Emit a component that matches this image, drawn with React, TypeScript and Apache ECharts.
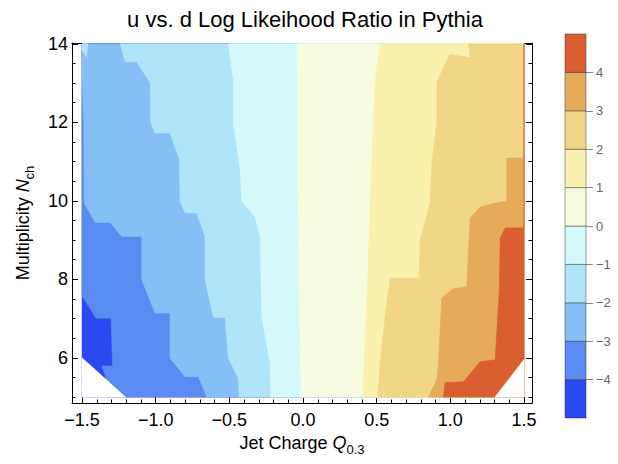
import React, { useEffect, useRef } from "react";
import * as echarts from "echarts";

// ---------- Data ----------
const TITLE = "u vs. d Log Likeihood Ratio in Pythia";

// contour levels and fill colours (bins: <-4, -4..-3, ..., 3..4, >4)
const levelValues = [-5, -4, -3, -2, -1, 0, 1, 2, 3, 4, 5];
const levelColors = [
  "#2B49F0",
  "#5A8BF0",
  "#86BEF6",
  "#AFE4F9",
  "#D5F9FB",
  "#F7FCE0",
  "#FAF1AE",
  "#F2D687",
  "#E6AA5B",
  "#D95E31",
];
const colorbarTicks = [-4, -3, -2, -1, 0, 1, 2, 3, 4];

// axis ticks
const xMajorTicks = [-1.5, -1.0, -0.5, 0.0, 0.5, 1.0, 1.5];
const yMajorTicks = [6, 8, 10, 12, 14];

// data domain (Jet charge x, multiplicity y)
const domainX = [-1.5, 1.5];
const domainY = [5, 14];

// contour lines (x, y); region right of each line has value above the level
const lineM4 = [[-1.5, 14], [-1.5, 7.58], [-1.405, 7.01], [-1.303, 7.01], [-1.292, 5.79], [-1.366, 5.79], [-1.34, 5.53], [-1.34, 5]];
const lineM3 = [[-1.5, 14], [-1.5, 13.2], [-1.488, 12.0], [-1.485, 9.94], [-1.41, 9.45], [-1.31, 9.45], [-1.23, 9.09], [-1.095, 9.09], [-1.095, 7.99], [-1.004, 7.14], [-0.903, 7.14], [-0.903, 5.99], [-0.8, 5.52], [-0.71, 5.52], [-0.654, 5]];
const lineM2 = [[-1.24, 14], [-1.208, 13.54], [-1.129, 13.54], [-1.038, 13.01], [-1.034, 11.99], [-1.004, 11.73], [-0.903, 11.73], [-0.839, 11.05], [-0.835, 9.99], [-0.8, 9.69], [-0.722, 9.69], [-0.665, 9.09], [-0.665, 7.99], [-0.608, 7.03], [-0.529, 7.03], [-0.507, 5.99], [-0.439, 5.48], [-0.434, 5]];
const patchM2 = [[-1.5, 14], [-1.46, 14], [-1.47, 13.66], [-1.5, 13.85]];
const lineM1 = [[-0.507, 14], [-0.473, 13.09], [-0.473, 11.99], [-0.427, 10.8], [-0.416, 9.99], [-0.326, 9.6], [-0.292, 9.09], [-0.28, 7.05], [-0.224, 5.86], [-0.219, 5]];
const line0 = [[-0.04, 14], [-0.035, 10], [-0.025, 7.5], [-0.012, 5]];
const line1 = [[0.523, 14], [0.489, 13.01], [0.466, 10.97], [0.437, 7.9], [0.405, 5]];
const line2 = [[1.123, 14], [1.134, 13.65], [0.994, 13.73], [0.908, 13.01], [0.908, 11.99], [0.874, 10.97], [0.862, 9.94], [0.795, 9.01], [0.788, 8.03], [0.591, 8.03], [0.557, 7.05], [0.523, 5.86], [0.507, 5]];
const line3 = [[1.5, 11.09], [1.383, 11.09], [1.383, 9.99], [1.297, 9.94], [1.202, 9.84], [1.134, 9.56], [1.111, 7.82], [1.014, 7.75], [0.942, 7.52], [0.919, 5.86], [0.908, 5.44], [0.851, 5]];
const line4 = [[1.5, 9.31], [1.372, 9.31], [1.338, 9.05], [1.333, 7.8], [1.304, 5.95], [1.202, 5.9], [1.089, 5.39], [0.964, 5.37], [0.953, 5]];

// corners without data
const emptyLeft = [[-1.5, 6.0], [-1.5, 5], [-1.205, 5]];
const emptyRight = [[1.303, 5], [1.5, 5], [1.5, 5.96]];

// ---------- Build layers ----------
type Layer = { pts: number[][]; color: string };
const contourLines = [lineM4, lineM3, lineM2, lineM1, line0, line1, line2, line3, line4];
const layers: Layer[] = [];
layers.push({
  pts: [[domainX[0], domainY[1]], [domainX[0], domainY[0]], [domainX[1], domainY[0]], [domainX[1], domainY[1]]],
  color: levelColors[0],
});
contourLines.forEach((ln, i) => {
  layers.push({ pts: [...ln, [domainX[1], domainY[0]], [domainX[1], domainY[1]]], color: levelColors[i + 1] });
  if (ln === lineM2) layers.push({ pts: patchM2, color: levelColors[i + 1] });
});
layers.push({ pts: emptyLeft, color: "#FFFFFF" });
layers.push({ pts: emptyRight, color: "#FFFFFF" });

const xMinorTicks: number[] = [];
for (let k = -15; k <= 15; k++) xMinorTicks.push(k / 10);
const yMinorTicks: number[] = [];
for (let k = 10; k <= 28; k++) yMinorTicks.push(k / 2);

const X_MIN = -1.568;
const X_MAX = 1.554;
const Y_MIN = 4.85;
const Y_MAX = 14.02;

const FONT = "'Liberation Sans', Arial, Helvetica, sans-serif";
const minus = (s: string) => s.replace("-", "\u2212");

export default function App() {
  const ref = useRef<HTMLDivElement>(null);
  useEffect(() => {
    if (!ref.current) return;
    const chart = echarts.init(ref.current, null, { renderer: "svg" });

    const xAx = (pos: "top" | "bottom", major: boolean, extra: any = {}) => ({
      type: "value",
      gridIndex: 0,
      position: pos,
      min: X_MIN,
      max: X_MAX,
      axisLine: { show: major, onZero: false, lineStyle: { color: "#000", width: 1 } },
      axisTick: {
        show: true,
        inside: true,
        length: major ? 6 : 3.5,
        customValues: major ? xMajorTicks : xMinorTicks,
        lineStyle: { color: "#000", width: 1 },
      },
      axisLabel: { show: false },
      splitLine: { show: false },
      ...extra,
    });
    const yAx = (pos: "left" | "right", major: boolean, extra: any = {}) => ({
      type: "value",
      gridIndex: 0,
      position: pos,
      min: Y_MIN,
      max: Y_MAX,
      axisLine: { show: major, onZero: false, lineStyle: { color: "#000", width: 1 } },
      axisTick: {
        show: true,
        inside: true,
        length: major ? 6 : 3.5,
        customValues: major ? yMajorTicks : yMinorTicks,
        lineStyle: { color: "#000", width: 1 },
      },
      axisLabel: { show: false },
      splitLine: { show: false },
      ...extra,
    });

    const option: any = {
      animation: false,
      backgroundColor: "#fff",
      textStyle: { fontFamily: FONT },
      grid: [
        { left: 72, right: 86, top: 43, bottom: 61, containLabel: false },
        { left: 565, top: 34, width: 21, height: 384, containLabel: false },
      ],
      xAxis: [
        xAx("bottom", true, {
          axisLabel: {
            show: true,
            customValues: xMajorTicks,
            formatter: (v: number) => minus(v.toFixed(1)),
            fontSize: 18,
            color: "#000",
            margin: 8,
            fontFamily: FONT,
          },
          name: "{a|Jet Charge }{q|Q}{s|0.3}",
          nameLocation: "middle",
          nameGap: 26,
          nameTextStyle: {
            rich: {
              a: { fontSize: 18, fontFamily: FONT, color: "#000", lineHeight: 26, verticalAlign: "middle" },
              q: { fontSize: 18, fontFamily: FONT, fontStyle: "italic", color: "#000", lineHeight: 26, verticalAlign: "middle" },
              s: { fontSize: 13, fontFamily: FONT, color: "#000", lineHeight: 14, verticalAlign: "bottom" },
            },
          },
        }),
        xAx("bottom", false),
        xAx("top", true),
        xAx("top", false),
        {
          type: "value",
          gridIndex: 1,
          min: 0,
          max: 1,
          show: false,
        },
      ],
      yAxis: [
        yAx("left", true, {
          axisLabel: {
            show: true,
            customValues: yMajorTicks,
            formatter: (v: number) => String(v),
            fontSize: 18,
            color: "#000",
            margin: 4,
            fontFamily: FONT,
          },
          name: "{a|Multiplicity }{q|N}{s|ch}",
          nameLocation: "middle",
          nameGap: 36,
          nameRotate: 90,
          nameTextStyle: {
            rich: {
              a: { fontSize: 18, fontFamily: FONT, color: "#000", lineHeight: 26, verticalAlign: "middle" },
              q: { fontSize: 18, fontFamily: FONT, fontStyle: "italic", color: "#000", lineHeight: 26, verticalAlign: "middle" },
              s: { fontSize: 13, fontFamily: FONT, color: "#000", lineHeight: 14, verticalAlign: "bottom" },
            },
          },
        }),
        yAx("left", false),
        yAx("right", true),
        yAx("right", false),
        {
          type: "value",
          gridIndex: 1,
          position: "right",
          min: levelValues[0],
          max: levelValues[levelValues.length - 1],
          axisLine: { show: false, onZero: false },
          axisTick: {
            show: true,
            inside: false,
            length: 7,
            customValues: colorbarTicks,
            lineStyle: { color: "#8a8a8a", width: 1 },
          },
          axisLabel: {
            show: true,
            customValues: colorbarTicks,
            formatter: (v: number) => minus(String(v)),
            fontSize: 13,
            color: "#666",
            margin: 10,
            fontFamily: FONT,
          },
          splitLine: { show: false },
        },
      ],
      series: [
        {
          type: "custom",
          coordinateSystem: "cartesian2d",
          xAxisIndex: 0,
          yAxisIndex: 0,
          silent: true,
          clip: true,
          data: layers.map(() => [0, 10]),
          renderItem: (params: any, api: any) => {
            const L = layers[params.dataIndex];
            return {
              type: "polygon",
              shape: { points: L.pts.map((p) => api.coord(p)) },
              style: { fill: L.color, stroke: L.color, lineWidth: 0.6 },
            };
          },
          z: 1,
        },
        {
          type: "custom",
          coordinateSystem: "cartesian2d",
          xAxisIndex: 4,
          yAxisIndex: 4,
          silent: true,
          data: levelColors.map((_, i) => [levelValues[i], levelValues[i + 1]]),
          renderItem: (params: any, api: any) => {
            const lo = api.value(0);
            const hi = api.value(1);
            const p0 = api.coord([0, hi]);
            const p1 = api.coord([1, lo]);
            return {
              type: "rect",
              shape: { x: p0[0], y: p0[1], width: p1[0] - p0[0], height: p1[1] - p0[1] },
              style: { fill: levelColors[params.dataIndex], stroke: "rgba(40,40,40,0.55)", lineWidth: 0.8 },
            };
          },
        },
      ],
      graphic: [
        {
          type: "text",
          x: 305,
          y: 19,
          style: {
            text: TITLE,
            fontSize: 22,
            fontFamily: FONT,
            fill: "#000",
            textAlign: "center",
            textVerticalAlign: "middle",
          },
        },
      ],
    };

    chart.setOption(option);
    return () => chart.dispose();
  }, []);

  return <div ref={ref} style={{ position: "absolute", left: 0, top: 0, width: 618, height: 464 }} />;
}
